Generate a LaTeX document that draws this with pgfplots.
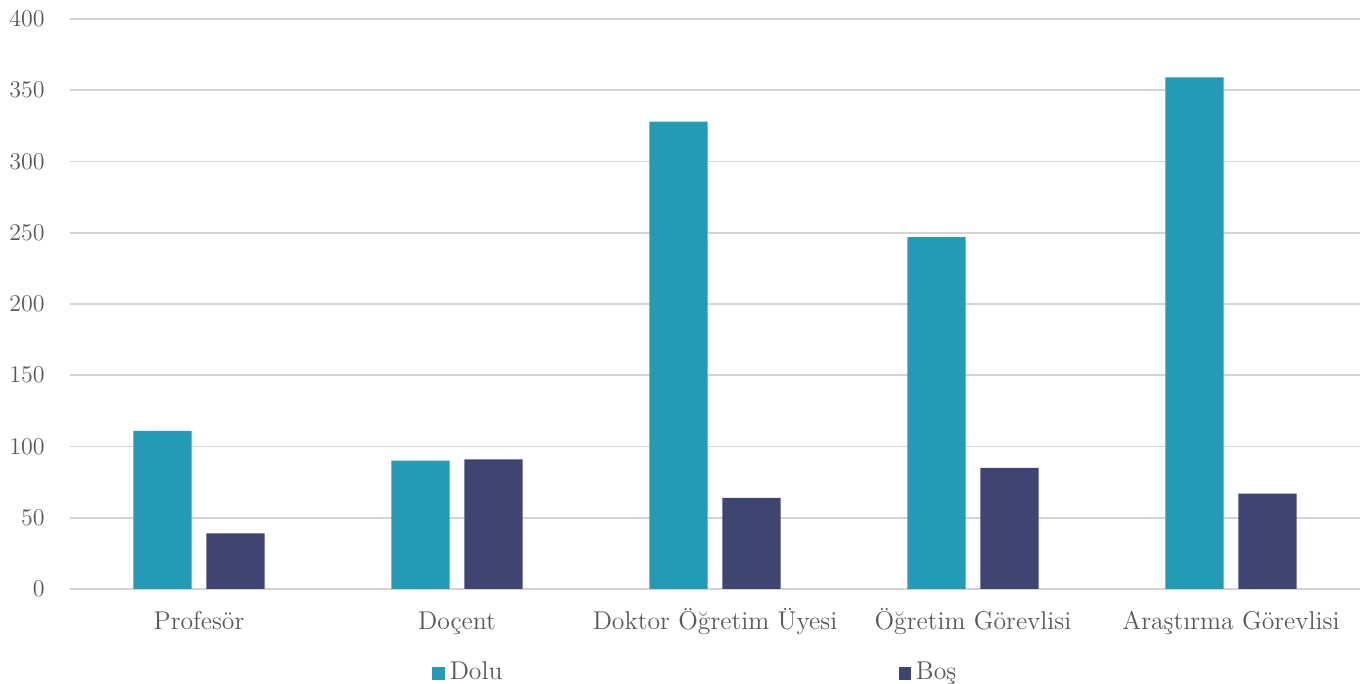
\documentclass[border=0pt]{standalone}
\usepackage{fontspec}
\usepackage{pgfplots}
\pgfplotsset{compat=1.18}
\definecolor{dolu}{RGB}{36,154,180}
\definecolor{bos}{RGB}{62,69,115}
\definecolor{txt}{RGB}{89,89,89}
\definecolor{grd}{RGB}{212,212,212}
\pgfplotsset{sqlegend/.style={legend image code/.code={\fill[##1,/tikz/.cd,draw=none] (0pt,0pt) rectangle (6.2pt,6.2pt);}}}
\begin{document}
\begin{tikzpicture}[font=\fontsize{12.85}{15}\selectfont]
\begin{axis}[
  scale only axis, width=645pt, height=285pt,
  ymin=0, ymax=400, ytick={0,50,...,400},
  xmin=-0.5, xmax=4.5, xtick={0,1,2,3,4},
  xticklabels={Profesör, Doçent, Doktor Öğretim Üyesi, Öğretim Görevlisi, Araştırma Görevlisi},
  ymajorgrids, grid style={grd, line width=0.8pt},
  axis line style={draw=none}, major tick length=0pt,
  tick label style={text=txt},
  yticklabel style={anchor=east, inner sep=0pt, xshift=-12.5pt},
  xticklabel style={anchor=base, inner sep=0pt, yshift=-20.5pt},
  ybar, bar width=0.225,
  legend columns=2,
  legend style={draw=none, fill=none, inner sep=0pt, text=txt,
    nodes={inner sep=0pt, text depth=0pt},
    cells={anchor=base west},
    at={(rel axis cs:0.2806,-0.1596)}, anchor=south west,
    /tikz/every odd column/.append style={column sep=2.5pt},
    /tikz/every even column/.append style={column sep=198pt}},
]
\addplot[fill=dolu, draw=none, bar shift=-0.1415, sqlegend]
  coordinates {(0,111) (1,90) (2,328) (3,247) (4,359)};
\addplot[fill=bos, draw=none, bar shift=0.1415, sqlegend]
  coordinates {(0,39) (1,91) (2,64) (3,85) (4,67)};
\legend{Dolu, Boş}
\end{axis}
\pgfresetboundingbox
\path[use as bounding box] (-35pt,-47.5pt) rectangle (647.5pt,294.5pt);
\end{tikzpicture}
\end{document}
